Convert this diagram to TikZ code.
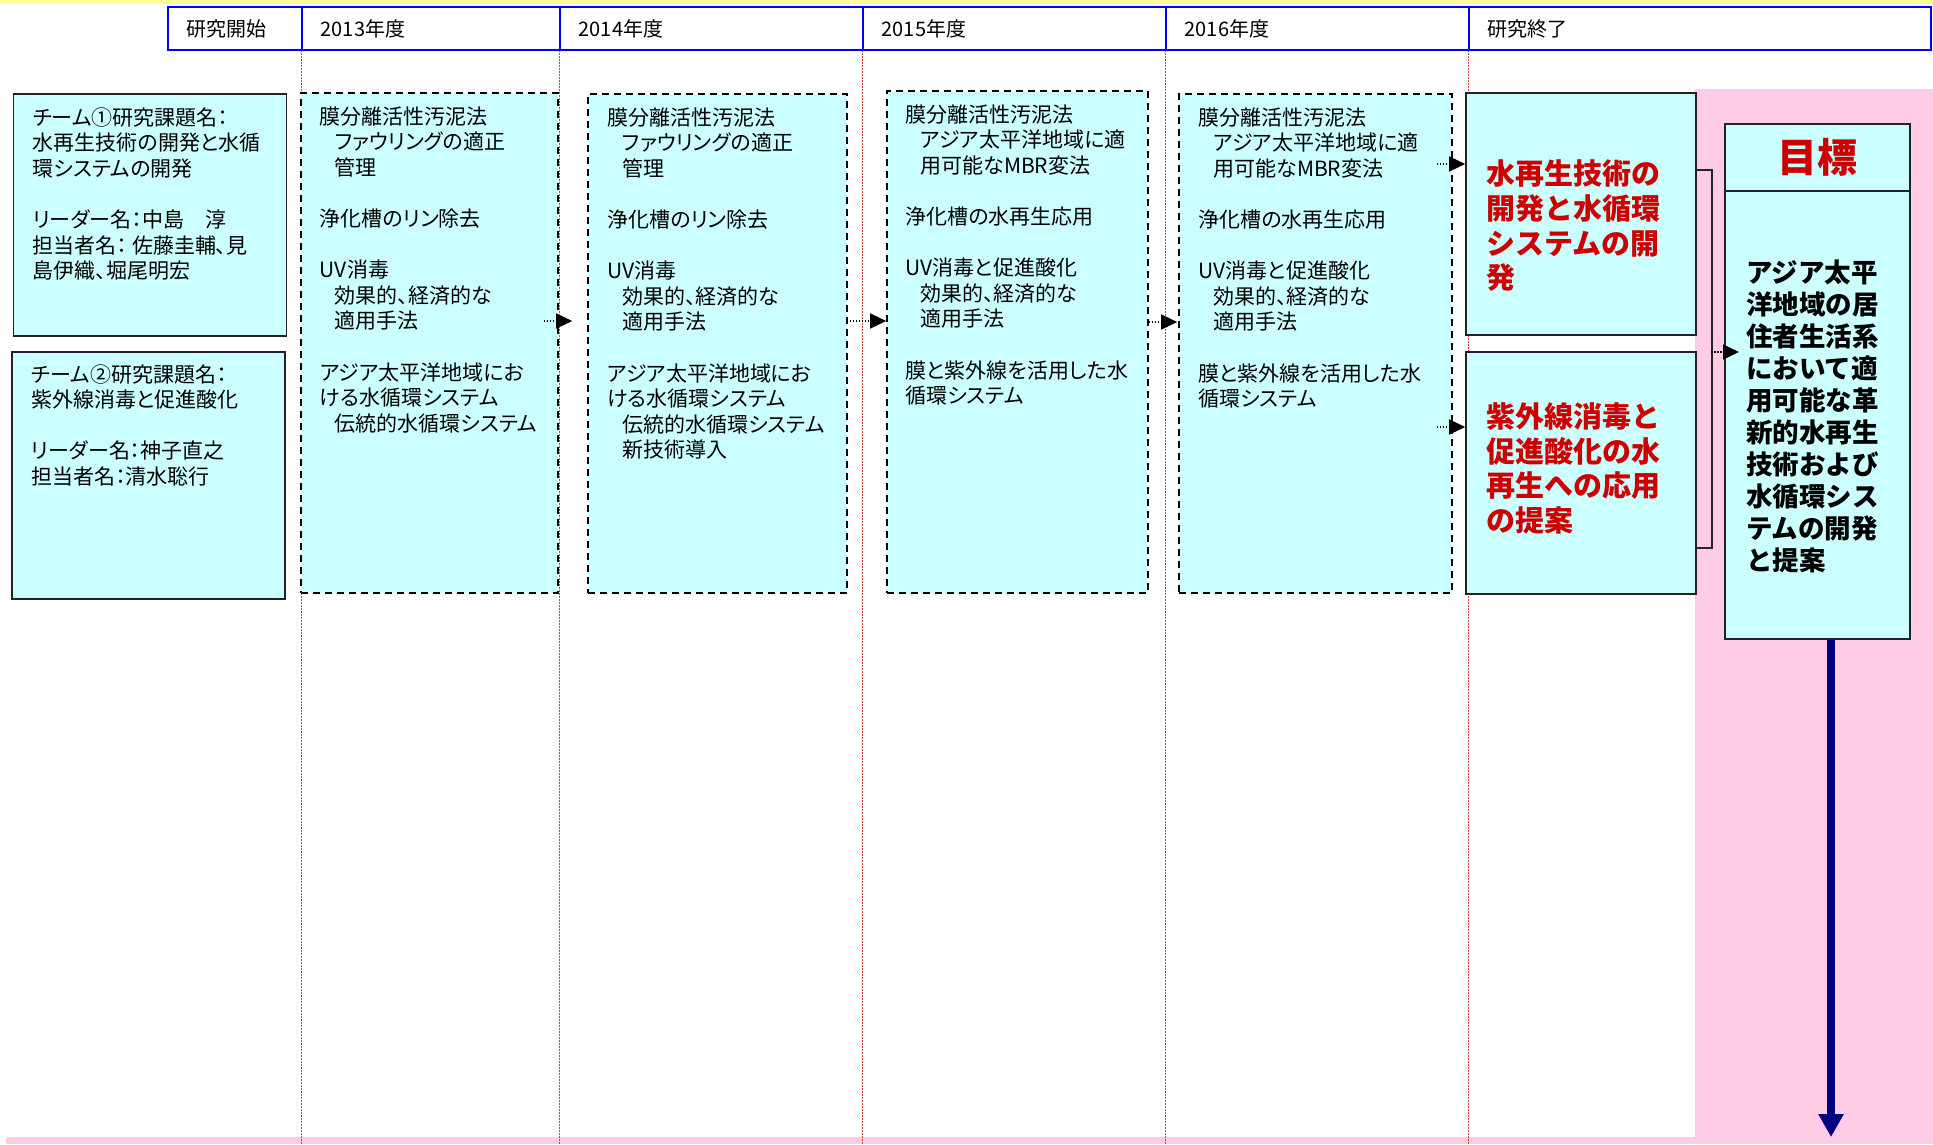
\documentclass[tikz,border=0pt]{standalone}
\usepackage{fontspec}
\setmainfont{Noto Sans CJK JP}[RawFeature=+palt]
\newfontfamily\jpwide{Noto Sans CJK JP}
\usetikzlibrary{arrows.meta}
\definecolor{boxcyan}{RGB}{204,255,255}
\definecolor{bgpink}{RGB}{255,204,230}
\definecolor{topyellow}{RGB}{255,255,153}
\definecolor{headblue}{RGB}{0,0,255}
\definecolor{gridred}{RGB}{225,60,60}
\definecolor{goalred}{RGB}{204,0,0}
\definecolor{arrownavy}{RGB}{0,0,128}
\definecolor{edgegray}{RGB}{35,35,35}
\newcommand{\yrindent}{\hspace*{15pt}}
\begin{document}
\begin{tikzpicture}[x=1pt, y=-1pt,
  headcell/.style={draw=headblue, line width=1.8pt, minimum height=43pt, inner sep=0pt},
  headtext/.style={anchor=west, inner sep=0pt, font=\fontsize{20}{20}\selectfont},
  teambox/.style={draw=edgegray, fill=boxcyan, line width=1.6pt, inner sep=0pt},
  yearbox/.style={draw=black, fill=boxcyan, line width=1.6pt, dash pattern=on 7pt off 5pt, inner sep=0pt},
  txt/.style={anchor=north west, inner sep=0pt, align=left, font=\fontsize{21}{25.6}\selectfont},
  redtxt/.style={anchor=north west, inner sep=0pt, align=left, text=goalred, font=\jpwide\bfseries\fontsize{29}{34.6}\selectfont},
  goaltxt/.style={anchor=north west, inner sep=0pt, align=left, font=\jpwide\bfseries\fontsize{26.5}{32}\selectfont},
  flow/.style={line width=1.3pt, dash pattern=on 1.5pt off 1.5pt, -{Triangle[length=16pt,width=15pt,sep=0pt]}},
  gridline/.style={gridred, line width=1pt, dash pattern=on 1.5pt off 1.5pt}]
\useasboundingbox (0,0) rectangle (1933,1144);
% background bands
\fill[topyellow] (0,0) rectangle (1933,4);
\fill[bgpink] (1695,89) rectangle (1933,1144);
\fill[bgpink] (6,1137) rectangle (1695,1144);
\foreach \x in {301,559,862,1165,1468}
  \draw[gridline] (\x,50) -- (\x,1144);
% time line header
\foreach \xa/\xb/\lab [count=\i] in {167/301/研究開始, 301/559/2013年度, 559/862/2014年度,
    862/1165/2015年度, 1165/1468/2016年度, 1468/1930/研究終了} {
  \node[headcell, anchor=west, minimum width={\xb-\xa}] (hd\i) at (\xa,28.5) {};
  \node[headtext] (hdt\i) at ([shift={(19.5,0)}]hd\i.west) {\lab};
}
% teams
\node[teambox, minimum width=273pt, minimum height=242pt] (team1) at (150,215) {};
\node[txt] (team1txt) at ([shift={(20,14)}]team1.north west) {チーム①研究課題名：\\水再生技術の開発と水循\\環システムの開発\\[25.6pt]リーダー名：中島　淳\\担当者名： 佐藤圭輔、見\\島伊織、堀尾明宏};
\node[teambox, minimum width=273pt, minimum height=247pt] (team2) at (148.5,475.5) {};
\node[txt] (team2txt) at ([shift={(20,13)}]team2.north west) {チーム②研究課題名：\\紫外線消毒と促進酸化\\[25.6pt]リーダー名：神子直之\\担当者名：清水聡行};
% yearly plans
\node[yearbox, minimum width=257pt, minimum height=500pt] (y13) at (429.5,343) {};
\node[txt] (y13txt) at ([shift={(19.5,14)}]y13.north west) {膜分離活性汚泥法\\\yrindent ファウリングの適正\\\yrindent 管理\\[25.6pt]浄化槽のリン除去\\[25.6pt]UV消毒\\\yrindent 効果的、経済的な\\\yrindent 適用手法\\[25.6pt]アジア太平洋地域にお\\ける水循環システム\\\yrindent 伝統的水循環システム};
\node[yearbox, minimum width=259pt, minimum height=499pt] (y14) at (717.5,343.5) {};
\node[txt] (y14txt) at ([shift={(20,14)}]y14.north west) {膜分離活性汚泥法\\\yrindent ファウリングの適正\\\yrindent 管理\\[25.6pt]浄化槽のリン除去\\[25.6pt]UV消毒\\\yrindent 効果的、経済的な\\\yrindent 適用手法\\[25.6pt]アジア太平洋地域にお\\ける水循環システム\\\yrindent 伝統的水循環システム\\\yrindent 新技術導入};
\node[yearbox, minimum width=261pt, minimum height=502pt] (y15) at (1017.5,342) {};
\node[txt] (y15txt) at ([shift={(19,14)}]y15.north west) {膜分離活性汚泥法\\\yrindent アジア太平洋地域に適\\\yrindent 用可能なMBR変法\\[25.6pt]浄化槽の水再生応用\\[25.6pt]UV消毒と促進酸化\\\yrindent 効果的、経済的な\\\yrindent 適用手法\\[25.6pt]膜と紫外線を活用した水\\循環システム};
\node[yearbox, minimum width=273pt, minimum height=499pt] (y16) at (1315.5,343.5) {};
\node[txt] (y16txt) at ([shift={(20,14)}]y16.north west) {膜分離活性汚泥法\\\yrindent アジア太平洋地域に適\\\yrindent 用可能なMBR変法\\[25.6pt]浄化槽の水再生応用\\[25.6pt]UV消毒と促進酸化\\\yrindent 効果的、経済的な\\\yrindent 適用手法\\[25.6pt]膜と紫外線を活用した水\\循環システム};
% results
\node[teambox, minimum width=230pt, minimum height=242.5pt] (r1) at (1581,214) {};
\node[redtxt] (r1txt) at ([shift={(21,68)}]r1.north west) {水再生技術の\\開発と水循環\\システムの開\\発};
\node[teambox, minimum width=230pt, minimum height=242pt] (r2) at (1581,473) {};
\node[redtxt] (r2txt) at ([shift={(21,51.5)}]r2.north west) {紫外線消毒と\\促進酸化の水\\再生への応用\\の提案};
% goal
\node[teambox, line width=2pt, minimum width=185pt, minimum height=67pt, text=goalred,
  font=\jpwide\bfseries\fontsize{40}{40}\selectfont] (goaltitle) at (1817.5,157.5) {目標};
\node[teambox, line width=2pt, minimum width=185pt, minimum height=448pt] (goalbody) at (1817.5,415) {};
\node[goaltxt] (goaltxt) at ([shift={(22,70)}]goalbody.north west) {アジア太平\\洋地域の居\\住者生活系\\において適\\用可能な革\\新的水再生\\技術および\\水循環シス\\テムの開発\\と提案};
% connectors
\draw[flow] ([shift={(-15,-22)}]y13.east) -- ([shift={(-15,-22.5)}]y14.west);
\draw[flow] ([shift={(-1,-22.5)}]y14.east) -- ([shift={(0,-21)}]y15.west);
\draw[flow] ([shift={(0,-20)}]y15.east) -- ([shift={(-1,-21.5)}]y16.west);
\draw[flow] ([shift={(-16,-179.5)}]y16.east) -- ([shift={(0,-50)}]r1.west);
\draw[flow] ([shift={(-16,83.5)}]y16.east) -- ([shift={(0,-46)}]r2.west);
\draw[edgegray, line width=1.8pt] ([shift={(0,-44)}]r1.east) -- ++(15,0) |- ([shift={(0,75)}]r2.east);
\coordinate (brkmid) at (1711,352);
\draw[flow] (brkmid) -- ([shift={(15,-63)}]goalbody.west);
\coordinate (arrowend) at (1831,1137);
\draw[arrownavy, line width=7.5pt, -{Triangle[length=23pt,width=24pt]}] ([shift={(13.5,0)}]goalbody.south) -- (arrowend);
\end{tikzpicture}
\end{document}
